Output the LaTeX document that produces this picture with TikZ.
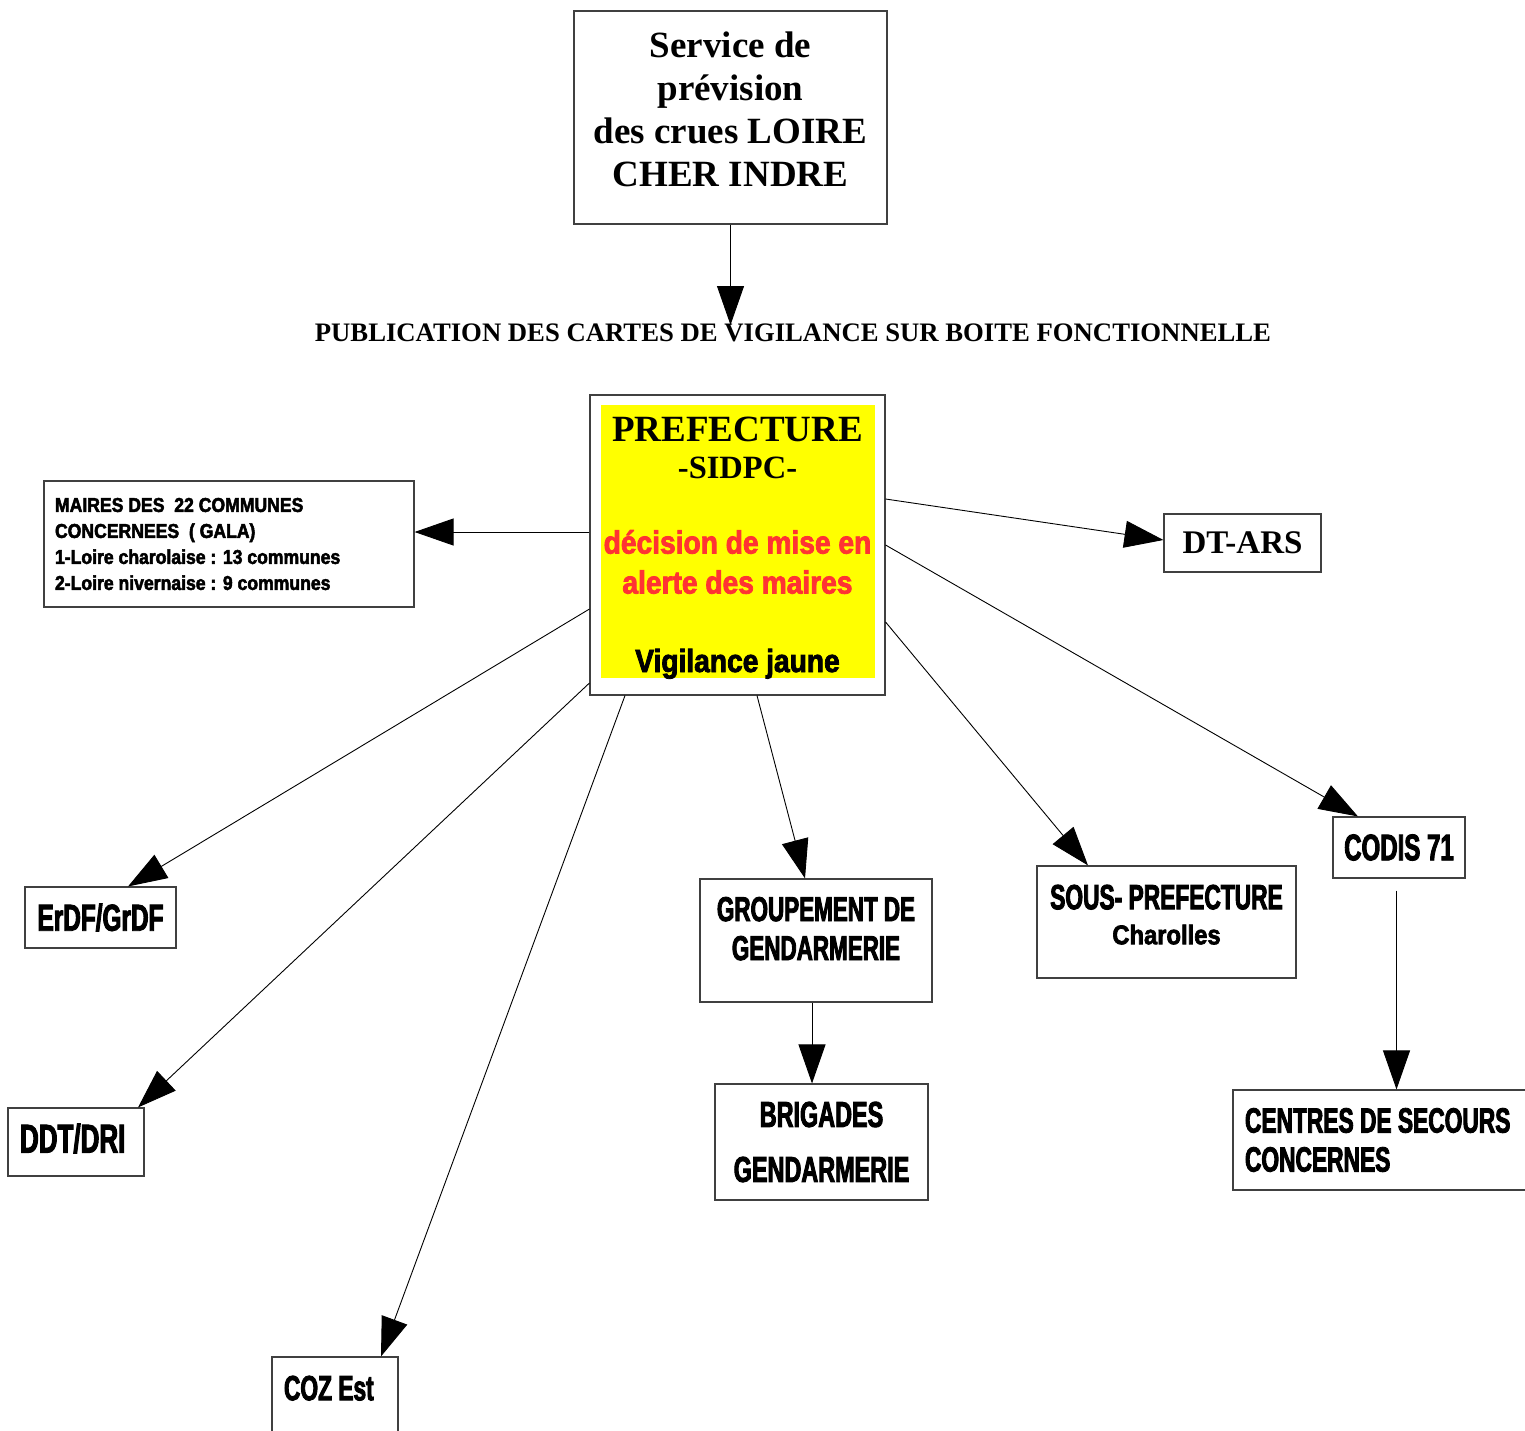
\documentclass[tikz,border=0pt]{standalone}
\usepackage{fontspec}
\setmainfont{Liberation Serif}
\newfontfamily\narrowcaps[FakeStretch=0.65,FakeBold=2.5]{Liberation Sans}
\newfontfamily\narrowtext[FakeStretch=0.88,FakeBold=2.5]{Liberation Sans}
\usetikzlibrary{arrows.meta}
\definecolor{prefyellow}{HTML}{FFFF00}
\definecolor{alertred}{HTML}{FF3333}
\definecolor{boxgray}{HTML}{404040}
\newcommand{\dropby}[1]{\rule[-#1]{0pt}{#1}}
\newcommand{\fontspaces}{\spaceskip=0pt\xspaceskip=0pt\relax}

\begin{document}
\begin{tikzpicture}[x=1pt,y=-1pt,
    box/.style={draw=boxgray,line width=1.1pt,inner sep=0pt},
    arr/.style={-{Triangle[length=39pt,width=27pt]},line width=0.9pt}]
  \useasboundingbox (0,0) rectangle (1525,1430);

  % service de prevision et publication
  \node[box,minimum width=313pt,minimum height=213pt,align=center,
    font=\bfseries\fontsize{37}{43}\selectfont] (spc) at (730.5,117.5)
    {Service de\\prévision\\des crues LOIRE\\CHER INDRE\dropby{16pt}};
  \coordinate (pubtip) at (730.5,325);
  \node[font=\bfseries\fontsize{26.7}{30}\selectfont] (pub) at (793,333)
    {PUBLICATION DES CARTES DE VIGILANCE SUR BOITE FONCTIONNELLE};
  \draw[arr] (spc.south) -- (pubtip);

  % prefecture
  \node[box,minimum width=295pt,minimum height=300pt,
    path picture={\fill[prefyellow]
      ([xshift=11pt,yshift=-10pt]path picture bounding box.north west) rectangle
      ([xshift=-10pt,yshift=17pt]path picture bounding box.south east);}] (pref) at (737.5,545) {};
  \node[anchor=base,font=\bfseries\fontsize{37}{40}\selectfont] (preftitle) at (737.5,441) {PREFECTURE};
  \node[anchor=base,font=\bfseries\fontsize{32.5}{34}\selectfont] (sidpc) at (737.5,478) {-SIDPC-};
  \node[align=center,text=alertred,font=\narrowtext\bfseries\fontsize{32}{40}\selectfont] (alerte) at (737.5,562)
    {décision de mise en\\alerte des maires};
  \node[anchor=base,font=\narrowtext\bfseries\fontsize{32}{36}\selectfont] (vigil) at (737.5,672) {Vigilance jaune};

  % destinataires
  \node[box,minimum width=370pt,minimum height=126pt,align=left,text width=348pt,
    font=\narrowtext\bfseries\fontsize{20}{26}\selectfont] (maires) at (229,544)
    {\fontspaces MAIRES DES~ 22 COMMUNES\\CONCERNEES~ ( GALA)\\1-Loire charolaise : 13 communes\\2-Loire nivernaise : 9 communes};
  \node[box,minimum width=157pt,minimum height=58pt,font=\bfseries\fontsize{33}{34}\selectfont] (dtars) at (1242.5,543) {DT-ARS};
  \node[box,minimum width=151pt,minimum height=61pt,font=\narrowcaps\bfseries\fontsize{37.5}{40}\selectfont] (erdf) at (100.5,917.5) {ErDF/GrDF};
  \node[box,minimum width=136pt,minimum height=68pt,align=left,text width=112pt,
    font=\narrowcaps\bfseries\fontsize{40}{40}\selectfont] (ddt) at (76,1142) {DDT/DRI\dropby{8pt}};
  \node[box,minimum width=126pt,minimum height=75pt,align=left,text width=102pt,
    font=\narrowcaps\bfseries\fontsize{35}{40}\selectfont] (coz) at (335,1394.5) {\fontspaces COZ Est\dropby{13pt}};
  \node[box,minimum width=232pt,minimum height=123pt,align=center,
    font=\narrowcaps\bfseries\fontsize{34.5}{39}\selectfont] (grp) at (816,940.5) {GROUPEMENT DE\\GENDARMERIE\dropby{24pt}};
  \node[box,minimum width=213pt,minimum height=116pt,align=center,
    font=\narrowcaps\bfseries\fontsize{36}{55}\selectfont] (brig) at (821.5,1142) {BRIGADES\\GENDARMERIE};
  \node[box,minimum width=259pt,minimum height=112pt,align=center,
    font=\narrowcaps\bfseries\fontsize{35}{35}\selectfont] (sous) at (1166.5,922)
    {SOUS- PREFECTURE\\{\narrowtext\fontsize{27}{35}\selectfont Charolles}\dropby{15pt}};
  \node[box,minimum width=132pt,minimum height=61pt,font=\narrowcaps\bfseries\fontsize{37}{40}\selectfont] (codis) at (1399,847.5) {CODIS 71};
  \node[box,minimum width=327pt,minimum height=100pt,align=left,text width=303pt,
    font=\narrowcaps\bfseries\fontsize{35}{39}\selectfont] (centres) at (1396.5,1140) {\fontspaces CENTRES DE SECOURS\\CONCERNES};

  % diffusion
  \draw[arr] ([yshift=13pt]pref.west) coordinate (pm) -- (pm -| maires.east);
  \draw[arr] ([yshift=46pt]pref.east) -- ([yshift=3pt]dtars.west);
  \draw[arr] (pref.east) -- ([xshift=-41pt]codis.north);
  \draw[arr] ([yshift=-77pt]pref.east) -- ([xshift=-78.5pt]sous.north);
  \draw[arr] ([xshift=19.5pt]pref.south) -- ([xshift=-11pt]grp.north);
  \draw[arr] ([xshift=-4pt]grp.south) -- ([xshift=-4pt]grp.south |- brig.north);
  \draw[arr] ([xshift=-112.5pt]pref.south) -- ([xshift=46pt]coz.north);
  \draw[arr] ([yshift=-138pt]pref.west) -- ([xshift=62pt]ddt.north);
  \draw[arr] ([yshift=-64pt]pref.west) -- ([xshift=27.5pt]erdf.north);
  \draw[arr] ([yshift=-12pt]codis.south -| centres.north) -- (centres.north);
\end{tikzpicture}
\end{document}
